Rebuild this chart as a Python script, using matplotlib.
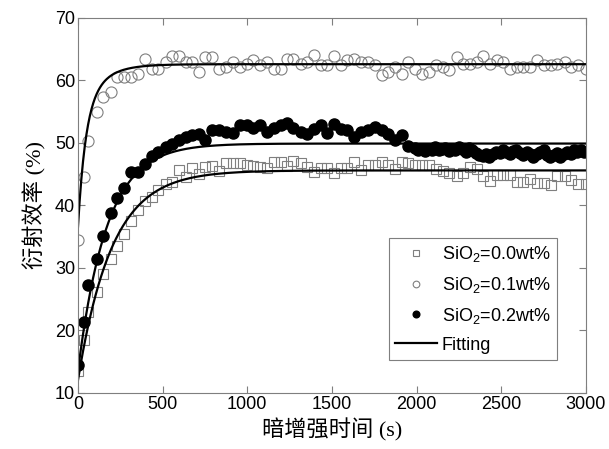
import numpy as np
import matplotlib
matplotlib.use('Agg')
from matplotlib import pyplot as plt

plt.rcParams['font.family'] = ['Liberation Sans', 'DejaVu Sans']
plt.rcParams['mathtext.fontset'] = 'custom'
plt.rcParams['mathtext.rm'] = 'Liberation Sans'
plt.rcParams['mathtext.it'] = 'Liberation Sans:italic'

# sampling times (s) of the open markers and the first part of the filled ones
t_base = [0, 35, 60, 110, 150, 195, 230, 270, 315, 355, 395, 435, 475, 520, 555,
          595, 640, 675, 715, 750, 790, 835, 875, 915, 955, 1000, 1035, 1075, 1115,
          1160, 1200, 1235, 1270, 1315, 1350, 1395, 1435, 1470, 1510, 1555, 1590,
          1630, 1670, 1715, 1755, 1795, 1830, 1870, 1915, 1950, 1990, 2030, 2075,
          2115, 2155, 2190, 2240, 2275, 2315, 2355, 2390, 2435, 2475, 2510, 2550,
          2595, 2630, 2670, 2710, 2750, 2795, 2830, 2875, 2910, 2955, 3000]

# SiO2 = 0.0 wt%
eff_00 = [13.5, 18.5, 22.9, 26.1, 29.1, 31.5, 33.5, 35.4, 37.5, 39.3,
          40.7, 41.4, 42.5, 43.4, 43.8, 45.7, 44.6, 46.0, 45.0, 46.2,
          46.3, 45.5, 46.8, 46.8, 46.8, 46.5, 46.3, 46.1, 46.0, 47.0,
          47.0, 46.3, 47.1, 46.8, 46.1, 45.4, 46.0, 46.0, 45.2, 46.0,
          46.0, 47.0, 45.7, 46.5, 46.5, 47.0, 46.5, 45.9, 47.0, 46.8,
          46.5, 46.5, 46.5, 45.9, 45.5, 45.2, 44.7, 45.2, 46.1, 45.9,
          44.7, 43.9, 44.9, 44.9, 44.9, 43.8, 43.8, 44.2, 43.6, 43.6,
          43.3, 44.7, 44.7, 44.1, 43.4, 43.4]

# SiO2 = 0.1 wt%
eff_01 = [34.5, 44.6, 50.3, 54.9, 57.3, 58.1, 60.6, 60.5, 60.6, 61.0,
          63.5, 61.9, 61.9, 62.9, 63.9, 63.9, 62.9, 63.0, 61.4, 63.7,
          63.7, 61.8, 62.2, 62.9, 62.1, 62.7, 63.2, 62.4, 62.9, 61.8,
          61.8, 63.5, 63.5, 62.7, 63.0, 64.0, 62.4, 62.4, 63.9, 62.4,
          63.2, 63.5, 63.0, 63.0, 62.4, 60.8, 61.4, 62.1, 61.0, 62.9,
          61.9, 61.1, 61.4, 62.4, 62.2, 61.6, 63.7, 62.7, 62.6, 62.9,
          63.9, 62.6, 63.2, 62.9, 61.8, 62.2, 62.1, 62.1, 63.2, 62.4,
          62.4, 62.6, 63.0, 62.2, 62.4, 61.9]

# SiO2 = 0.2 wt%, first part on t_base[:50]
eff_02_a = [14.5, 21.4, 27.2, 31.5, 35.1, 38.8, 41.2, 42.8, 45.4, 45.4,
            46.7, 47.9, 48.6, 49.4, 49.9, 50.4, 51.0, 51.2, 51.5, 50.5,
            52.0, 52.0, 51.8, 51.6, 52.8, 52.8, 52.4, 52.9, 51.8, 52.4,
            52.8, 53.2, 52.4, 51.8, 51.5, 52.3, 52.9, 51.6, 53.1, 52.3,
            52.0, 51.0, 51.8, 52.1, 52.6, 52.1, 51.5, 50.4, 51.2, 49.5]
# after ~2000 s it was sampled every 20 s
t_02_b = np.arange(1990, 3001, 20)
eff_02_b = [49.2, 48.8, 49.0, 48.7, 49.1, 48.9, 49.3, 48.8, 49.0, 49.2,
            48.7, 49.1, 48.9, 49.3, 49.0, 48.6, 49.2, 48.9, 48.4, 48.1,
            47.9, 48.3, 47.8, 48.2, 48.6, 48.4, 48.8, 48.5, 48.2, 48.7,
            48.9, 48.4, 48.0, 48.6, 48.3, 47.8, 48.2, 48.5, 48.9, 48.1,
            47.7, 48.0, 48.4, 47.8, 48.2, 48.6, 48.3, 48.9, 48.5, 48.8, 48.6]

t_02 = np.concatenate([t_base[:50], t_02_b])
eff_02 = eff_02_a + eff_02_b

# fitted saturation curves
tf = np.linspace(0, 3000, 600)
fit_00 = 45.6 - 33.6*np.exp(-tf/200)
fit_01 = 62.6 - 18.0*np.exp(-tf/45) - 8.1*np.exp(-tf/120)
fit_02 = 49.9 - 36.4*np.exp(-tf/170)

fig = plt.figure(figsize=(6.09, 4.49), dpi=100)
ax = fig.add_axes([0.128, 0.125, 0.834, 0.835])

grey = '#7f7f7f'
ax.plot(t_base, eff_00, 's', ms=6.8, mfc='none', mec=grey, mew=0.8, label='SiO$_2$=0.0wt%')
ax.plot(t_base, eff_01, 'o', ms=8, mfc='none', mec=grey, mew=0.8, label='SiO$_2$=0.1wt%')
ax.plot(t_02, eff_02, 'o', ms=8, color='black', label='SiO$_2$=0.2wt%')
ax.plot(tf, fit_00, 'k-', lw=1.6, label='Fitting')
ax.plot(tf, fit_01, 'k-', lw=1.6)
ax.plot(tf, fit_02, 'k-', lw=1.6)

ax.set_xlim(0, 3000)
ax.set_ylim(10, 70)
ax.set_xticks(range(0, 3001, 500))
ax.set_yticks(range(10, 71, 10))
ax.tick_params(direction='in', top=True, right=True, length=5, width=0.8,
               color=grey, labelsize=13, pad=2)
for s in ax.spines.values():
    s.set_color(grey)
    s.set_linewidth(0.8)

ax.set_xlabel('暗增强时间 (s)', family=['Liberation Serif', 'Noto Sans CJK SC'], fontsize=16, labelpad=4)
ax.set_ylabel('衍射效率 (%)', family=['Liberation Serif', 'Noto Sans CJK SC'], fontsize=16, labelpad=6)

leg = ax.legend(loc='lower right', bbox_to_anchor=(0.943, 0.088), fontsize=13,
                markerscale=0.6, fancybox=False, framealpha=1, edgecolor=grey,
                handlelength=2.3, handletextpad=0.3, borderpad=0.35, labelspacing=0.6,
                borderaxespad=0)
leg.get_frame().set_linewidth(0.8)

plt.savefig('out.png', dpi=100)
